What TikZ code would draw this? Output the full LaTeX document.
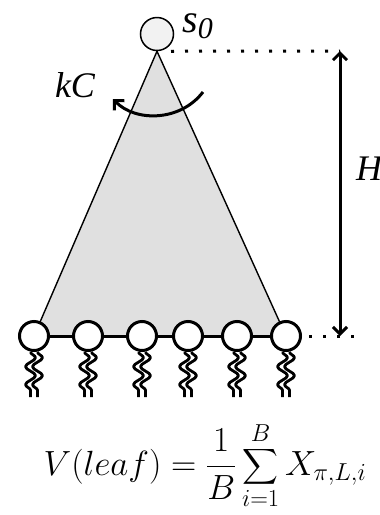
\RequirePackage{fix-cm}
\documentclass[tikz,border=0pt]{standalone}
\usepackage{fontspec}
\usepackage{amsmath}
\usepackage{tikz}
\usetikzlibrary{
  arrows.meta,
  positioning,
  calc,
  backgrounds,
  decorations.pathmorphing
}
\newfontfamily\lblfont{Liberation Serif}
\definecolor{mcFill}{HTML}{E0E0E0}
\definecolor{mcRoot}{HTML}{F2F2F2}
\tikzset{
  rootnode/.style={draw, circle, line width=1.5pt, fill=mcRoot, minimum size=33pt, inner sep=0pt},
  leafnode/.style={draw, circle, line width=3pt, fill=white, minimum size=29pt, inner sep=0pt},
  treebody/.style={draw, line width=1.4pt, fill=mcFill},
  baseline/.style={line width=3pt},
  levelguide/.style={line width=3pt, dash pattern=on 3pt off 11pt},
  heightarrow/.style={{Straight Barb[length=7pt,width=14pt]}-{Straight Barb[length=7pt,width=14pt]}, line width=3pt},
  bendarrow/.style={-{Straight Barb[length=7pt,width=14pt]}, line width=3pt},
  rollout/.style={line width=2.8pt, line join=round, decorate, decoration={snake, amplitude=5pt, segment length=18pt}},
  lbl/.style={font=\fontsize{36}{40}\selectfont\lblfont\itshape, inner sep=0pt}
}
\begin{document}
\begin{tikzpicture}[x=1pt, y={(0pt,-1pt)}]
  \useasboundingbox (0,0) rectangle (380,515);

  \node[rootnode] (root) at (157,34) {};
  \node[anchor=base west, inner sep=0pt, font=\fontsize{40}{44}\selectfont\lblfont\itshape] (s0) at (182,32)
    {s\raisebox{-6pt}{\fontsize{30}{32}\selectfont 0}};

  % leaves of the tree
  \foreach \x [count=\i] in {34,88,142,188,237,286} {
    \node[leafnode] (leaf\i) at (\x,336) {};
  }
  \begin{scope}[on background layer]
    \draw[treebody] (root.south) -- (leaf1.center) -- (leaf6.center) -- cycle;
    \draw[baseline] (leaf1) -- (leaf6);
  \end{scope}

  % random playouts below each leaf
  \foreach \i in {1,...,6} {
    \draw[rollout] ($(leaf\i.south)+(-3.5,0)$) -- ++(0,45);
    \draw[rollout] ($(leaf\i.south)+(3.5,0)$) -- ++(0,45);
  }

  % height of the tree
  \coordinate (htop) at (340,51);
  \coordinate (hbot) at (340,336);
  \draw[levelguide] ($(root.south)+(14,0)$) -- (htop);
  \draw[levelguide] ($(leaf6.east)+(7,0)$) -- ($(hbot)+(20,0)$);
  \draw[heightarrow] (htop) -- (hbot);
  \node[lbl] (hlbl) at (369,169) {H};

  % kC sweep
  \coordinate (kcs) at (203,92);
  \coordinate (kce) at (113,99);
  \draw[bendarrow] (kcs) .. controls (180,122) and (135,122) .. (kce);
  \node[lbl] (kclbl) at (75,85) {kC};

  \node[font=\fontsize{35}{40}\selectfont] (value) at (205,466)
    {$\displaystyle V(leaf) = \frac{1}{B}\sum_{i=1}^{B} X_{\pi,L,i}$};
\end{tikzpicture}
\end{document}
